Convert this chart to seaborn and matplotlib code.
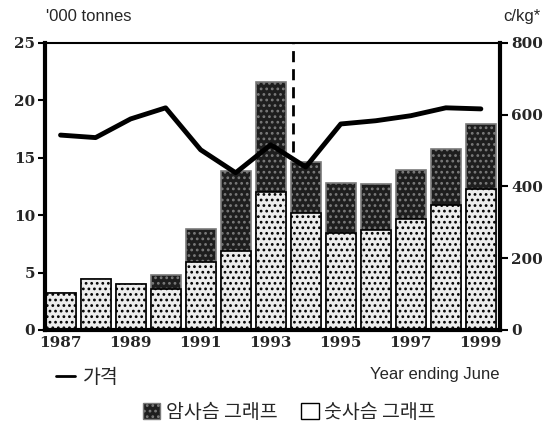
import numpy as np
import pandas as pd
import seaborn as sns
import matplotlib.pyplot as plt
from matplotlib.patches import Patch
from matplotlib.lines import Line2D

# --- dane ---
years = [1987, 1988, 1989, 1990, 1991, 1992, 1993, 1994, 1995, 1996, 1997, 1998, 1999]
stag = [3.2, 4.4, 4.0, 3.6, 5.9, 6.9, 12.0, 10.2, 8.4, 8.7, 9.7, 10.9, 12.3]   # 숫사슴
hind = [0.0, 0.0, 0.0, 1.2, 2.9, 6.9, 9.6, 4.4, 4.4, 4.0, 4.2, 4.9, 5.6]      # 암사슴
price = [543, 536, 588, 619, 502, 438, 516, 454, 574, 583, 597, 619, 616]     # c/kg
tick_years = ['1987', '1989', '1991', '1993', '1995', '1997', '1999']

df = pd.DataFrame({'year': [str(y) for y in years], 'stag': stag, 'hind': hind, 'price': price})
df['total'] = df['stag'] + df['hind']
df['pos'] = np.arange(len(df))

sns.set_theme(style='white')
plt.rcParams['font.family'] = ['Noto Sans CJK KR', 'DejaVu Sans']
plt.rcParams['hatch.linewidth'] = 1.2

DARK = '#1e1e1e'
LIGHT = '#ececec'

fig = plt.figure(figsize=(5.46, 4.33), dpi=100)
ax = fig.add_axes([0.082, 0.238, 0.834, 0.663])

# ciemna część (암사슴) = cały słupek, jasna (숫사슴) na wierzchu
sns.barplot(data=df, x='year', y='total', color=DARK, width=0.86,
            edgecolor='black', linewidth=1.2, ax=ax)
n_dark = len(ax.patches)
sns.barplot(data=df, x='year', y='stag', color=LIGHT, width=0.86,
            edgecolor='black', linewidth=1.2, ax=ax)
for p in ax.patches[n_dark:]:
    p.set_hatch('...')
    p.set_facecolor(LIGHT)
    p.set_edgecolor('black')
for p in ax.patches[:n_dark]:
    p.set_hatch('...')
    p.set_facecolor(DARK)
    p.set_edgecolor('#7a7a7a')

ax.set_xlim(-0.45, 12.55)
ax.set_ylim(0, 25)
ax.set_yticks([0, 5, 10, 15, 20, 25])
ax.set_xticks(range(0, 13, 2))
ax.set_xticklabels(tick_years, family='DejaVu Serif', fontweight='bold', fontsize=11)
ax.set_yticklabels(['0', '5', '10', '15', '20', '25'], family='DejaVu Serif',
                   fontweight='bold', fontsize=11)
ax.set_xlabel('')
ax.set_ylabel('')
ax.tick_params(axis='x', length=0, pad=4)
ax.tick_params(axis='y', direction='out', length=5, width=1.5, color='black', left=True, pad=2)

# linia przerywana
ax.plot([6.65, 6.65], [15.5, 25], color='black', lw=2, ls=(0, (4, 2.5)))

for s in ['left', 'right', 'bottom']:
    ax.spines[s].set_linewidth(3)
    ax.spines[s].set_color('black')
ax.spines['top'].set_linewidth(1.5)
ax.spines['top'].set_color('black')

# cena
ax2 = ax.twinx()
sns.lineplot(data=df, x='pos', y='price', color='black', lw=3.5, ax=ax2)
ax2.set_ylim(0, 800)
ax2.set_yticks([0, 200, 400, 600, 800])
ax2.set_yticklabels(['0', '200', '400', '600', '800'], family='DejaVu Serif',
                    fontweight='bold', fontsize=11)
ax2.set_ylabel('')
ax2.set_xlabel('')
ax2.tick_params(axis='y', direction='out', length=6, width=1.5, color='black', right=True, pad=2)
for s in ax2.spines.values():
    s.set_visible(False)
ax.set_xlim(-0.45, 12.55)

fig.text(0.085, 0.945, "'000 tonnes", family='Liberation Sans', fontsize=12, va='bottom')
fig.text(0.99, 0.945, 'c/kg*', family='Liberation Sans', fontsize=12, va='bottom', ha='right')
fig.text(0.915, 0.134, 'Year ending June', family='Liberation Sans', fontsize=12, ha='right', va='center')

h_line = [Line2D([0], [0], color='black', lw=2)]
fig.legend(h_line, ['가격'], loc='center left', bbox_to_anchor=(0.07, 0.128),
           frameon=False, fontsize=14, handlelength=1.0, handletextpad=0.4)
h_bars = [Patch(facecolor=DARK, edgecolor='#7a7a7a', hatch='...'),
          Patch(facecolor='white', edgecolor='black')]
fig.legend(h_bars, ['암사슴 그래프', '숫사슴 그래프'], loc='center', bbox_to_anchor=(0.53, 0.048),
           ncol=2, frameon=False, fontsize=14, handlelength=0.9, handleheight=0.9,
           handletextpad=0.3, columnspacing=1.2)

fig.savefig('out.png', dpi=100)
